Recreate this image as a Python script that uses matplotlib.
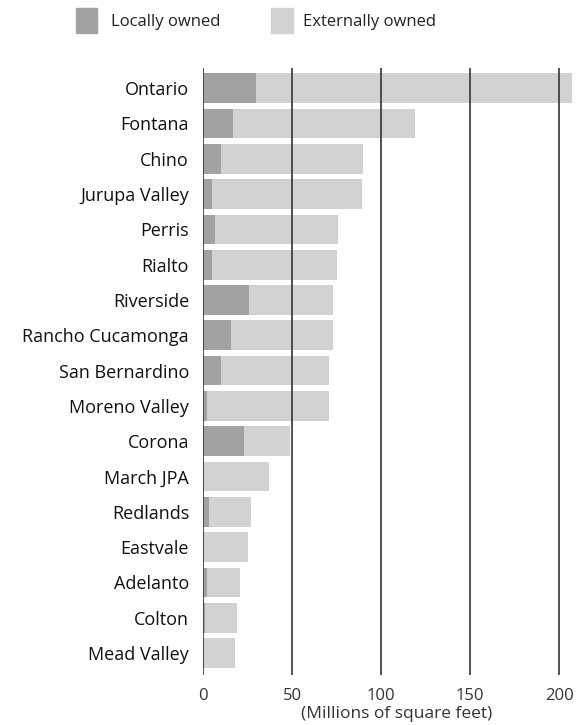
import matplotlib.pyplot as plt
from matplotlib.patches import Rectangle

plt.rcParams["font.family"] = ["Open Sans", "DejaVu Sans"]

cities = [
    "Ontario", "Fontana", "Chino", "Jurupa Valley", "Perris", "Rialto",
    "Riverside", "Rancho Cucamonga", "San Bernardino", "Moreno Valley",
    "Corona", "March JPA", "Redlands", "Eastvale", "Adelanto", "Colton",
    "Mead Valley",
]
# warehouse floor space, millions of square feet
local = [30, 17, 10, 5, 7, 5, 26, 16, 10, 2, 23, 0.5, 3.5, 0.5, 2, 1, 0.5]
total = [207, 119, 90, 89, 76, 75, 73, 73, 71, 71, 49, 37, 27, 25, 21, 19, 18]
external = [t - l for t, l in zip(total, local)]
ticks = [0, 50, 100, 150, 200]

LOCAL_C = "#a2a2a2"
EXT_C = "#d2d2d2"

fig = plt.figure(figsize=(5.77, 7.25), dpi=100)
ax = fig.add_axes([203 / 577, 1 - 675 / 725, 1 - 203 / 577, (675 - 68) / 725])

y = list(range(len(cities)))
ax.barh(y, local, height=0.84, color=LOCAL_C, zorder=1)
ax.barh(y, external, left=local, height=0.84, color=EXT_C, zorder=1)

ax.set_xlim(0, 210)
ax.set_ylim(16.62, -0.57)
ax.set_xticks(ticks)
ax.set_yticks(y)
ax.set_yticklabels(cities, fontsize=13, color="#111111")
ax.tick_params(axis="x", length=0, pad=9, labelsize=12, labelcolor="#333333")
ax.tick_params(axis="y", length=0, pad=10)
for t in ticks:
    ax.axvline(t, color="#353535", lw=1.2, zorder=3)
for s in ax.spines.values():
    s.set_visible(False)
ax.set_xlabel("(Millions of square feet)", fontsize=12.5, color="#333333")
ax.xaxis.set_label_coords((397 - 203) / 374, -0.051)

# legend drawn along the top
fig.add_artist(Rectangle((76 / 577, 1 - 33 / 725), 21 / 577, 25 / 725,
                         transform=fig.transFigure, color=LOCAL_C))
fig.text(111 / 577, 1 - 22 / 725, "Locally owned", fontsize=12,
         va="center", color="#222222")
fig.add_artist(Rectangle((271 / 577, 1 - 33 / 725), 22 / 577, 25 / 725,
                         transform=fig.transFigure, color=EXT_C))
fig.text(303 / 577, 1 - 22 / 725, "Externally owned", fontsize=12,
         va="center", color="#222222")

fig.savefig("out.png", dpi=100)
